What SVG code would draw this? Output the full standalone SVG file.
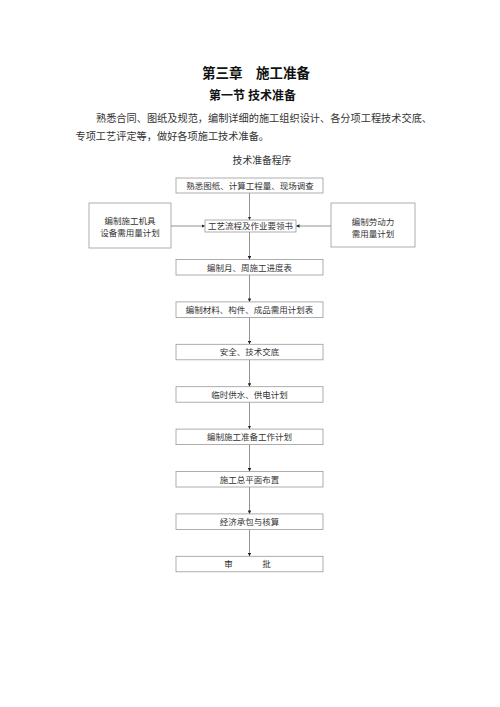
<svg xmlns="http://www.w3.org/2000/svg" width="500" height="707" viewBox="0 0 500 707">
<defs>
<style>
text{font-family:"Liberation Serif","Noto Sans CJK SC",serif;fill:#333}
.h1{font-size:13.5px;font-weight:bold;fill:#111}
.h2{font-size:12px;font-weight:bold;fill:#111}
.p{font-size:10.2px}
.cap{font-size:9.8px}
.t{font-size:8.5px;text-anchor:middle}
.box{fill:#fff;stroke:#999;stroke-width:0.8}
.ln{stroke:#777;stroke-width:0.8;fill:none}
</style>
<marker id="ah" viewBox="0 0 6 6" refX="6" refY="3" markerWidth="3.5" markerHeight="3.5" markerUnits="userSpaceOnUse" orient="auto">
<path d="M0,0L6,3L0,6z" fill="#222"/>
</marker>
</defs>
<rect width="500" height="707" fill="#fff"/>
<text class="h1" x="256" y="78" text-anchor="middle">第三章　施工准备</text>
<text class="h2" x="252.5" y="99.5" text-anchor="middle">第一节 技术准备</text>
<text class="p" x="96" y="122" textLength="336" lengthAdjust="spacingAndGlyphs">熟悉合同、图纸及规范，编制详细的施工组织设计、各分项工程技术交底、</text>
<text class="p" x="75.5" y="140">专项工艺评定等，做好各项施工技术准备。</text>
<text class="cap" x="262" y="164" text-anchor="middle">技术准备程序</text>
<g id="connectors">
<line class="ln" x1="249.5" y1="193" x2="249.5" y2="220" marker-end="url(#ah)"/>
<line class="ln" x1="171" y1="226" x2="205" y2="226" marker-end="url(#ah)"/>
<line class="ln" x1="331" y1="226" x2="296" y2="226" marker-end="url(#ah)"/>
<line class="ln" x1="249.5" y1="232" x2="249.5" y2="259.5" marker-end="url(#ah)"/>
<line class="ln" x1="249.5" y1="275" x2="249.5" y2="301.9" marker-end="url(#ah)"/>
<line class="ln" x1="249.5" y1="317.4" x2="249.5" y2="344.3" marker-end="url(#ah)"/>
<line class="ln" x1="249.5" y1="359.8" x2="249.5" y2="386.7" marker-end="url(#ah)"/>
<line class="ln" x1="249.5" y1="402.2" x2="249.5" y2="429.1" marker-end="url(#ah)"/>
<line class="ln" x1="249.5" y1="444.6" x2="249.5" y2="471.5" marker-end="url(#ah)"/>
<line class="ln" x1="249.5" y1="487" x2="249.5" y2="513.9" marker-end="url(#ah)"/>
<line class="ln" x1="249.5" y1="529.4" x2="249.5" y2="556.3" marker-end="url(#ah)"/>
</g>
<g id="n1"><rect class="box" x="176" y="178" width="147" height="15"/><text class="t" x="250" y="188.7">熟悉图纸、计算工程量、现场调查</text></g>
<g id="n2"><rect class="box" x="205" y="220" width="91" height="12"/><text class="t" x="250.5" y="229.2">工艺流程及作业要领书</text></g>
<g id="nL"><rect class="box" x="89" y="203" width="82" height="45"/><text class="t" x="130" y="224">编制施工机具</text><text class="t" x="130" y="236">设备需用量计划</text></g>
<g id="nR"><rect class="box" x="331" y="203" width="84" height="44"/><text class="t" x="373" y="224.5">编制劳动力</text><text class="t" x="373" y="236.5">需用量计划</text></g>
<g id="n3"><rect class="box" x="176" y="259.5" width="147" height="15.5"/><text class="t" x="249.5" y="270.5">编制月、周施工进度表</text></g>
<g id="n4"><rect class="box" x="176" y="301.9" width="147" height="15.5"/><text class="t" x="249.5" y="312.9">编制材料、构件、成品需用计划表</text></g>
<g id="n5"><rect class="box" x="176" y="344.3" width="147" height="15.5"/><text class="t" x="249.5" y="355.3">安全、技术交底</text></g>
<g id="n6"><rect class="box" x="176" y="386.7" width="147" height="15.5"/><text class="t" x="249.5" y="397.7">临时供水、供电计划</text></g>
<g id="n7"><rect class="box" x="176" y="429.1" width="147" height="15.5"/><text class="t" x="249.5" y="440.1">编制施工准备工作计划</text></g>
<g id="n8"><rect class="box" x="176" y="471.5" width="147" height="15.5"/><text class="t" x="249.5" y="482.5">施工总平面布置</text></g>
<g id="n9"><rect class="box" x="176" y="513.9" width="147" height="15.5"/><text class="t" x="249.5" y="524.9">经济承包与核算</text></g>
<g id="n10"><rect class="box" x="176" y="556.3" width="147" height="15.5"/><text class="t" x="228.5" y="567.3">审</text><text class="t" x="266.5" y="567.3">批</text></g>
</svg>
